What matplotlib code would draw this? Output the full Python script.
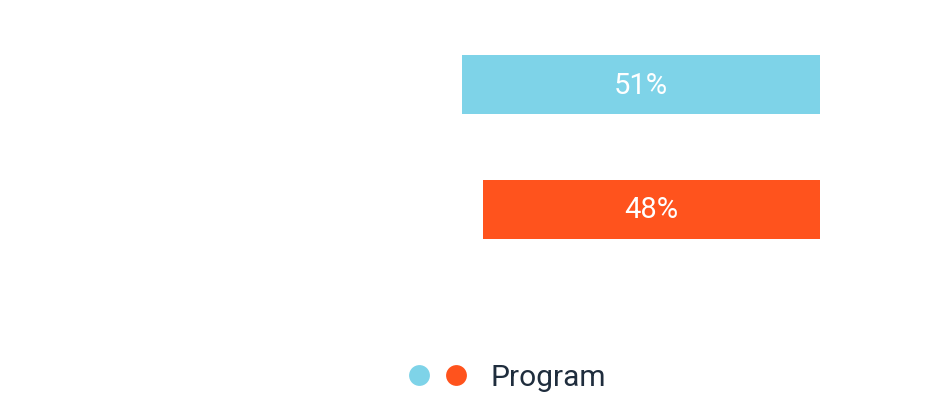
import matplotlib
matplotlib.use("Agg")
import matplotlib.pyplot as plt
from matplotlib.lines import Line2D

categories = ["A", "B"]
values = [51, 48]
labels = ["51%", "48%"]
colors = ["#7ED3E8", "#FF531D"]
legend_label = "Program"

W, H = 926, 406
fig = plt.figure(figsize=(W / 100, H / 100), dpi=100)
plt.rcParams['font.family'] = ['Roboto', 'DejaVu Sans']

# axes in pixel coordinates
x0, x1 = 118, 820
y0, y1 = 23, 273
ax = fig.add_axes([x0 / W, 1 - y1 / H, (x1 - x0) / W, (y1 - y0) / H])
ax.set_xlim(100, 0)
ax.set_ylim(1.5, -0.5)
ypos = list(range(len(categories)))
ax.barh(ypos, values, height=59 / 125, color=colors, left=0)
for y, v, t in zip(ypos, values, labels):
    ax.text(v / 2, y, t, ha="center", va="center", color="white", fontsize=21)
ax.axis("off")

# legend
for cx, c in zip([419, 456], colors):
    fig.add_artist(Line2D([cx / W], [1 - 376 / H], marker="o", markersize=15,
                          color=c, markeredgewidth=0, linestyle="none",
                          transform=fig.transFigure))
fig.text(491 / W, 1 - 378 / H, legend_label, ha="left", va="center",
         fontsize=21.5, color="#1F2D3D")

fig.savefig("out.png", dpi=100)
